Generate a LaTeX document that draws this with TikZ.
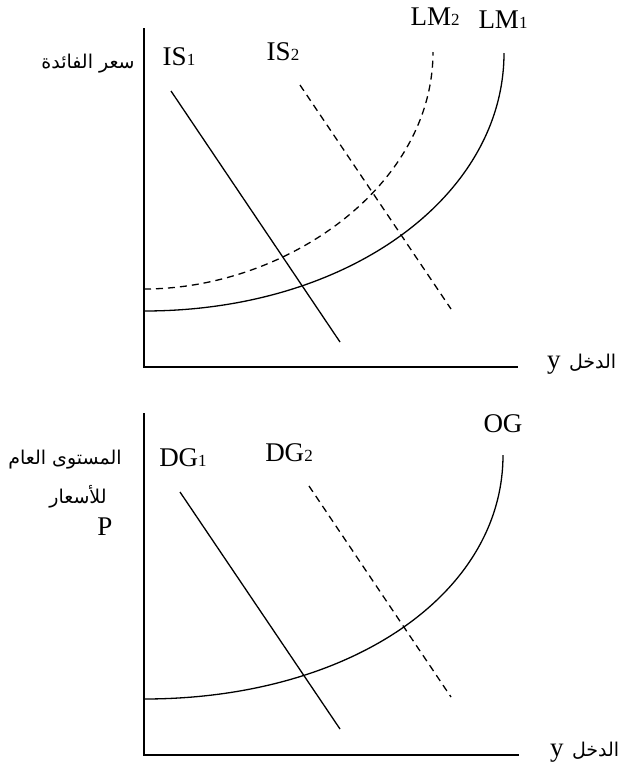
\documentclass[tikz,border=0pt]{standalone}
\usepackage{fontspec}
\setmainfont{Liberation Serif}
\newfontfamily\arabicfont[Script=Arabic]{DejaVu Sans}
\TeXXeTstate=1
\usetikzlibrary{positioning}

% curve name with a small index on the baseline
\newcommand{\crv}[2]{#1{\fontsize{17}{17}\selectfont #2}}
\newcommand{\ar}[1]{{\arabicfont\beginR #1\endR}}

\begin{document}
\begin{tikzpicture}[x=1pt, y=-1pt,
    axis/.style={line width=1.7pt},
    curve/.style={line width=1.3pt},
    shifted/.style={curve, dash pattern=on 7pt off 5pt},
    tag/.style={font=\fontsize{27}{27}\selectfont, inner sep=0pt},
    artag/.style={font=\fontsize{19}{22}\selectfont\arabicfont, inner sep=0pt}
]
\useasboundingbox (0,0) rectangle (622,772);

% ============ top panel: IS-LM ============
\coordinate (top1) at (144,28);
\coordinate (o1) at (144,367);
\coordinate (end1) at (518,367);
\draw[axis] (top1) -- (o1) -- (end1);

\coordinate (is1a) at (171,91);
\coordinate (is1b) at (340,342);
\coordinate (is2a) at (300,85);
\coordinate (is2b) at (451,309);
\draw[curve] (is1a) -- (is1b);
\draw[shifted] (is2a) -- (is2b);

\coordinate (lm1a) at (144,311);
\coordinate (lm1b) at (504,53);
\coordinate (lm2a) at (144,289);
\coordinate (lm2b) at (433,52);
\draw[curve] (lm1a) .. controls (350,311) and (504,195) .. (lm1b);
\draw[shifted] (lm2a) .. controls (285,289) and (433,187) .. (lm2b);

% etiquetas
\node[tag] (is1) at (179,57) {\crv{IS}{1}};
\node[tag] (is2) at (283,52) {\crv{IS}{2}};
\node[tag] (lm2) at (435,17) {\crv{LM}{2}};
\node[tag] (lm1) at (503,20) {\crv{LM}{1}};
\node[artag] (rate) at (88,64) {\ar{سعر الفائدة}};
\node[tag, anchor=base west] (y1) at (547,368) {y};
\node[artag, anchor=base west] (inc1) at ([xshift=8pt]y1.base east) {\ar{الدخل}};

% ============ bottom panel: DG-OG ============
\coordinate (top2) at (144,413);
\coordinate (o2) at (144,755);
\coordinate (end2) at (519,755);
\draw[axis] (top2) -- (o2) -- (end2);

\coordinate (dg1a) at (180,492);
\coordinate (dg1b) at (340,729);
\coordinate (dg2a) at (309,486);
\coordinate (dg2b) at (451,697);
\draw[curve] (dg1a) -- (dg1b);
\draw[shifted] (dg2a) -- (dg2b);

\coordinate (oga) at (144,699);
\coordinate (ogb) at (503,455);
\draw[curve] (oga) .. controls (350,699) and (503,594) .. (ogb);

% etiquetas
\node[tag] (dg1) at (183,458) {\crv{DG}{1}};
\node[tag] (dg2) at (289,453) {\crv{DG}{2}};
\node[tag] (og) at (503,424) {OG};
\node[artag] (lvl) at (65,460) {\ar{المستوى العام}};
\node[artag] (prc) at (78,497) {\ar{للأسعار}};
\node[tag] (p) at (105,527) {P};
\node[tag, anchor=base west] (y2) at (550,756) {y};
\node[artag, anchor=base west] (inc2) at ([xshift=8pt]y2.base east) {\ar{الدخل}};

\end{tikzpicture}
\end{document}
